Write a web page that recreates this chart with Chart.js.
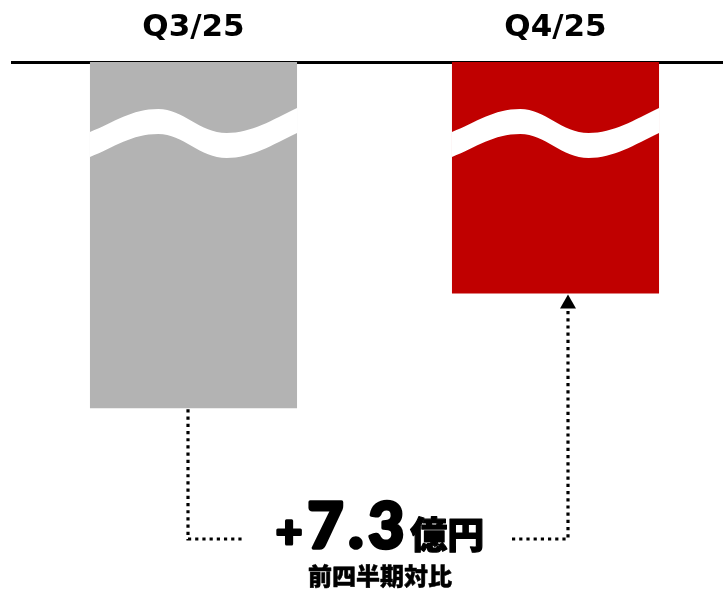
<!DOCTYPE html>
<html lang="ja">
<head>
<meta charset="utf-8">
<script src="https://cdn.jsdelivr.net/npm/chart.js@4.4.1/dist/chart.umd.min.js"></script>
<style>
  html, body { margin: 0; padding: 0; background: #fff; overflow: hidden; }
  #wrap { position: relative; width: 745px; height: 591px; }
</style>
</head>
<body>
<div id="wrap"><canvas id="chart"></canvas></div>
<script>
// 四半期ごとの値(億円)。縦棒は上の軸から下へ伸びる
const quarters = ["Q3/25", "Q4/25"];
const values = [-22.0, -14.7];
const barColors = ["#b3b3b3", "#c00000"];
const unitLabel = "億円";
const subLabel = "前四半期対比";

const textFont = "'Noto Sans CJK JP', sans-serif";
const numFont = "Lato, 'Noto Sans CJK JP', sans-serif";

// 波線の上端(棒の上端からの距離)。下端は +25
function waveEdge(ctx, left, w, top, shift, reverse) {
  const px = f => left + f * w;
  const py = d => top + d + shift;
  if (!reverse) {
    ctx.lineTo(px(0), py(70));
    ctx.bezierCurveTo(px(0.12), py(60), px(0.2), py(47), px(0.33), py(47));
    ctx.bezierCurveTo(px(0.45), py(47), px(0.53), py(71), px(0.66), py(71));
    ctx.bezierCurveTo(px(0.78), py(71), px(0.88), py(58), px(1), py(46));
  } else {
    ctx.lineTo(px(1), py(46));
    ctx.bezierCurveTo(px(0.88), py(58), px(0.78), py(71), px(0.66), py(71));
    ctx.bezierCurveTo(px(0.53), py(71), px(0.45), py(47), px(0.33), py(47));
    ctx.bezierCurveTo(px(0.2), py(47), px(0.12), py(60), px(0), py(70));
  }
}

const breakPlugin = {
  id: "breakWave",
  afterDatasetsDraw(chart) {
    const ctx = chart.ctx;
    const top = chart.chartArea.top;
    chart.getDatasetMeta(0).data.forEach(bar => {
      const left = bar.x - bar.width / 2;
      ctx.save();
      ctx.beginPath();
      waveEdge(ctx, left, bar.width, top, 0, false);
      waveEdge(ctx, left, bar.width, top, 25, true);
      ctx.closePath();
      ctx.fillStyle = "#fff";
      ctx.fill();
      ctx.restore();
    });
  }
};

// 太めの文字(塗り+同色の縁取り)
function heavyText(ctx, t, x, y, stroke) {
  ctx.fillText(t, x, y);
  if (stroke > 0) {
    ctx.lineWidth = stroke;
    ctx.lineJoin = "round";
    ctx.strokeText(t, x, y);
  }
}

// 差額の点線コネクタと注記
const diffPlugin = {
  id: "diffNote",
  afterDraw(chart) {
    const ctx = chart.ctx;
    const bars = chart.getDatasetMeta(0).data;
    const a = bars[0];
    const b = bars[1];
    const lineY = 539;
    const ax = a.x - 5.5;
    const bx = b.x + 12.5;

    ctx.save();
    ctx.strokeStyle = "#000";
    ctx.fillStyle = "#000";
    ctx.lineWidth = 3.2;
    ctx.setLineDash([3.2, 4]);
    ctx.beginPath();
    ctx.moveTo(ax, a.y + 1);
    ctx.lineTo(ax, lineY);
    ctx.lineTo(243, lineY);
    ctx.stroke();

    ctx.beginPath();
    ctx.moveTo(512, lineY);
    ctx.lineTo(bx, lineY);
    ctx.lineTo(bx, b.y + 15);
    ctx.stroke();
    ctx.setLineDash([]);

    // 矢印
    ctx.beginPath();
    ctx.moveTo(bx, b.y + 1);
    ctx.lineTo(bx - 8, b.y + 15);
    ctx.lineTo(bx + 8, b.y + 15);
    ctx.closePath();
    ctx.fill();

    // +7.3億円
    const diff = values[1] - values[0];
    const parts = [
      { t: diff >= 0 ? "+" : "−", font: "900 46px " + numFont, s: 3, dy: 0, ls: 0 },
      { t: Math.abs(diff).toFixed(1), font: "900 62px " + numFont, s: 3.5, dy: 0, ls: 5 },
      { t: unitLabel, font: "900 37px " + textFont, s: 1.2, dy: 1, ls: 0 }
    ];
    const gaps = [5, 1];
    let total = 0;
    parts.forEach((p, i) => {
      ctx.font = p.font;
      ctx.letterSpacing = p.ls + "px";
      p.w = ctx.measureText(p.t).width;
      total += p.w + (gaps[i] || 0);
    });
    let x = 380 - total / 2;
    ctx.textBaseline = "alphabetic";
    ctx.textAlign = "left";
    parts.forEach((p, i) => {
      ctx.font = p.font;
      ctx.letterSpacing = p.ls + "px";
      heavyText(ctx, p.t, x, 548 + p.dy, p.s);
      x += p.w + (gaps[i] || 0);
    });
    ctx.letterSpacing = "0px";

    ctx.font = "900 24px " + textFont;
    ctx.textAlign = "center";
    heavyText(ctx, subLabel, 380, 585, 0.5);
    ctx.restore();
  }
};

new Chart(document.getElementById("chart"), {
  type: "bar",
  data: {
    labels: quarters,
    datasets: [{
      data: values,
      backgroundColor: barColors,
      borderWidth: 0,
      barPercentage: 0.572,
      categoryPercentage: 1
    }]
  },
  options: {
    responsive: true,
    maintainAspectRatio: false,
    animation: false,
    layout: { padding: { left: 12.5, right: 8.5, top: 0, bottom: 0 } },
    plugins: {
      legend: { display: false },
      tooltip: { enabled: false }
    },
    scales: {
      x: {
        position: "top",
        z: 1,
        grid: { display: false, drawTicks: false },
        border: { display: true, color: "#000", width: 3 },
        ticks: {
          color: "#000",
          padding: 15,
          font: { family: "'DejaVu Sans'", size: 31, weight: "bold" }
        },
        afterFit: scale => { scale.height = 62; }
      },
      y: {
        display: false,
        min: -33.6,
        max: 0
      }
    }
  },
  plugins: [breakPlugin, diffPlugin]
});
</script>
</body>
</html>
